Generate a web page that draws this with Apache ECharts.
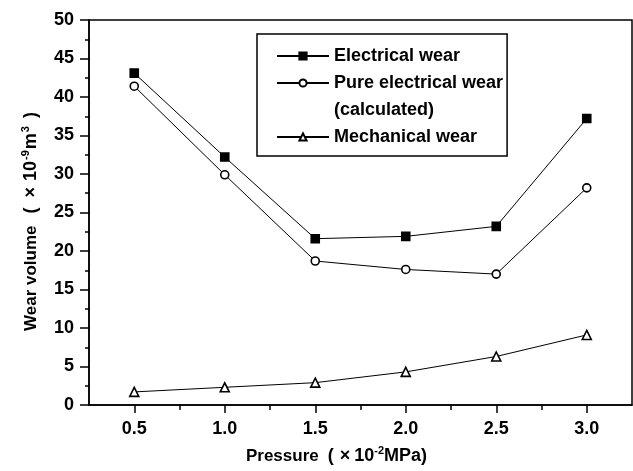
<!DOCTYPE html>
<html>
<head>
<meta charset="utf-8">
<script src="https://cdn.jsdelivr.net/npm/echarts@6/dist/echarts.min.js"></script>
<style>html,body{margin:0;padding:0;background:#fff;}#c{width:633px;height:471px;}</style>
</head>
<body>
<div id="c"></div>
<script>
var pressure = [0.5, 1.0, 1.5, 2.0, 2.5, 3.0];
var electricalWear = [43.1, 32.2, 21.6, 21.9, 23.2, 37.2];
var pureElectricalWear = [41.4, 29.9, 18.7, 17.6, 17.0, 28.2];
var mechanicalWear = [1.7, 2.3, 2.9, 4.3, 6.3, 9.1];
var majorXTicks = [0.5, 1.0, 1.5, 2.0, 2.5, 3.0];
var minorXTicks = [0.75, 1.25, 1.75, 2.25, 2.75];
var seriesNames = ['Electrical wear', 'Pure electrical wear', '(calculated)', 'Mechanical wear'];

function pairs(xs, ys) { return xs.map(function (x, i) { return [x, ys[i]]; }); }

var font = 'Liberation Sans, Arial, sans-serif';
var chart = echarts.init(document.getElementById('c'));
var lineSeries = function (name, data, symbol, size) {
  return {
    name: name, type: 'line', data: pairs(pressure, data),
    symbol: symbol, symbolSize: size,
    lineStyle: { color: '#000', width: 1 },
    itemStyle: { color: symbol === 'rect' ? '#000' : '#fff', borderColor: '#000', borderWidth: 1.6 },
    emphasis: { disabled: true }, animation: false
  };
};
function tok(size, padLeft, sup) {
  var s = { fontFamily: font, fontWeight: 'bold', fontSize: size, color: '#000', lineHeight: 22, padding: [0, 0, 0, padLeft || 0] };
  if (sup) { s.verticalAlign = 'top'; s.padding = [0, 0, 8, padLeft || 0]; }
  return s;
}
var xRich = { w: tok(17), a: tok(18, 9), b: tok(18, 6), c: tok(18, 4), s: tok(11, 0, true), d: tok(18) };
var yRich = { w: tok(17), a: tok(18, 12), b: tok(18, 10), c: tok(18, 6), s: tok(11, 1, true), d: tok(18, 1), e: tok(11, 1, true), f: tok(18, 8) };

chart.setOption({
  animation: false,
  grid: { left: 89, right: 1, top: 20, bottom: 66, show: true, borderColor: '#000', borderWidth: 1.5, backgroundColor: 'transparent' },
  legend: {
    orient: 'vertical', left: 257, top: 34,
    padding: [12, 4, 9, 19],
    borderColor: '#000', borderWidth: 1.5,
    itemWidth: 52, itemHeight: 9, itemGap: 7,
    selectedMode: false,
    textStyle: { fontFamily: font, fontWeight: 'bold', fontSize: 18, color: '#000', lineHeight: 20 },
    data: [
      { name: seriesNames[0] },
      { name: seriesNames[1] },
      { name: seriesNames[2], icon: 'none' },
      { name: seriesNames[3] }
    ]
  },
  xAxis: [{
    type: 'value', min: 0.25, max: 3.25, interval: 0.25,
    name: '{w|Pressure}{a|(}{b|×}{c|10}{s|-2}{d|MPa)}', nameLocation: 'middle', nameGap: 40,
    nameTextStyle: { rich: xRich, padding: [0, 48, 0, 0] },
    axisLine: { lineStyle: { color: '#000', width: 1.5 } },
    axisTick: { show: true, length: 8, inside: false, lineStyle: { color: '#000', width: 1.5 }, customValues: majorXTicks },
    axisLabel: { customValues: majorXTicks, margin: 15, fontFamily: font, fontWeight: 'bold', fontSize: 18, color: '#000',
      formatter: function (v) { return v.toFixed(1); } },
    splitLine: { show: false }
  }, {
    type: 'value', min: 0.25, max: 3.25, interval: 0.25, position: 'bottom',
    axisLine: { show: false },
    axisTick: { show: true, length: 5, lineStyle: { color: '#000', width: 1.5 }, customValues: minorXTicks },
    axisLabel: { show: false },
    splitLine: { show: false }
  }],
  yAxis: {
    type: 'value', min: 0, max: 50, interval: 5,
    name: '{w|Wear volume}{a|(}{b|×}{c|10}{s|-9}{d|m}{e|3}{f|)}', nameLocation: 'middle', nameGap: 47, nameRotate: 90,
    nameTextStyle: { rich: yRich, padding: [0, 18, 0, 0] },
    axisLine: { show: true, lineStyle: { color: '#000', width: 1.5 } },
    axisTick: { show: true, length: 9, lineStyle: { color: '#000', width: 1.5 } },
    minorTick: { show: true, splitNumber: 2, length: 4, lineStyle: { color: '#000', width: 1.5 } },
    axisLabel: { margin: 15, fontFamily: font, fontWeight: 'bold', fontSize: 18, color: '#000' },
    splitLine: { show: false }
  },
  series: [
    lineSeries(seriesNames[0], electricalWear, 'rect', 8),
    lineSeries(seriesNames[1], pureElectricalWear, 'circle', 8),
    { name: seriesNames[2], type: 'line', data: [], symbol: 'none', lineStyle: { opacity: 0 } },
    lineSeries(seriesNames[3], mechanicalWear, 'triangle', 9)
  ]
});
</script>
</body>
</html>
